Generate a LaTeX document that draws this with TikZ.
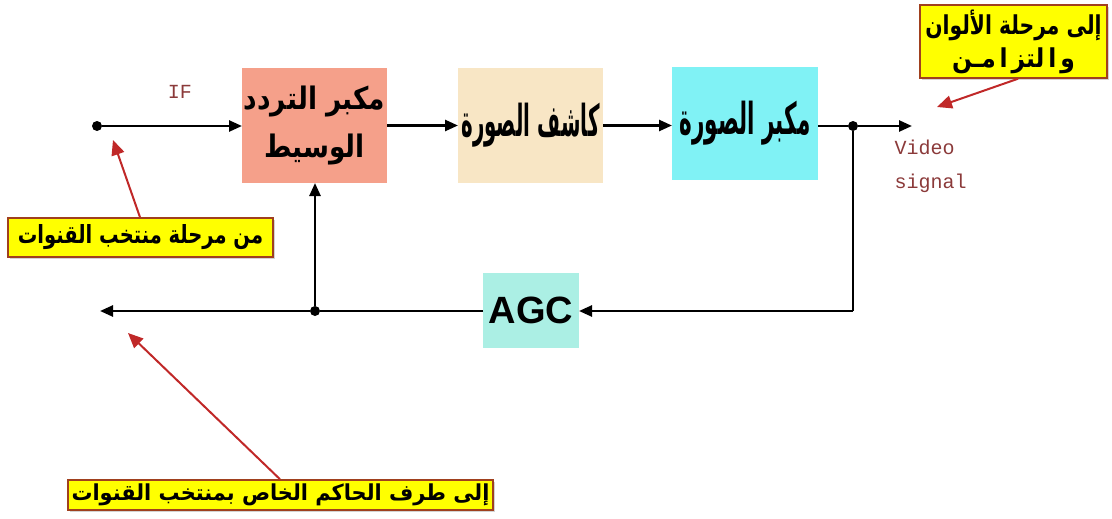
\documentclass[tikz,border=0pt]{standalone}
\usepackage{fontspec}
\setmainfont{Liberation Sans}
\newfontfamily\arabicfont[Script=Arabic]{DejaVu Sans}
\newfontfamily\codefont{Liberation Mono}
\TeXXeTstate=1
\usetikzlibrary{arrows.meta,shadows}

% narrow a line of text horizontally
\newcommand\narrow[2]{\scalebox{#1}[1]{#2}}

\definecolor{ifbox}{HTML}{F5A08A}
\definecolor{detbox}{HTML}{F8E6C5}
\definecolor{vidbox}{HTML}{80F2F5}
\definecolor{agcbox}{HTML}{ABEFE4}
\definecolor{tagfill}{HTML}{FFFF00}
\definecolor{tagline}{HTML}{A0401E}
\definecolor{signame}{HTML}{8B3A3A}
\definecolor{pointer}{HTML}{C02828}

\tikzset{
  block/.style={inner sep=0pt, outer sep=0pt, align=center},
  tag/.style={fill=tagfill, draw=tagline, line width=1.5pt, inner sep=0pt,
    align=center,
    drop shadow={shadow xshift=2pt, shadow yshift=-2pt, opacity=0.35}},
  wire/.style={line width=2.5pt, -{Triangle[length=13pt,width=11pt]}},
  plain/.style={line width=2.5pt},
  dot/.style={circle, fill=black, inner sep=0pt, minimum size=10pt},
  sig/.style={font=\codefont\fontsize{20}{34}\selectfont, text=signame, align=left},
  ptr/.style={line width=2pt, draw=pointer, -{Triangle[length=15pt,width=13pt]}}
}

\begin{document}
\begin{tikzpicture}[x=1pt,y=-1pt]
  \useasboundingbox (0,0) rectangle (1112,519);

  % processing blocks
  \node[block, fill=ifbox, minimum width=145pt, minimum height=115pt,
        font=\arabicfont\bfseries\fontsize{31}{48}\selectfont] (ifamp) at (314.5,125.5)
    {\narrow{0.85}{\beginR مكبر التردد\endR}\\\narrow{0.85}{\beginR الوسيط\endR}};
  \node[block, fill=detbox, minimum width=145pt, minimum height=115pt,
        font=\arabicfont\bfseries\fontsize{44}{48}\selectfont] (det) at (530.5,125.5)
    {\narrow{0.45}{\beginR كاشف الصورة\endR}};
  \node[block, fill=vidbox, minimum width=146pt, minimum height=113pt,
        font=\arabicfont\bfseries\fontsize{44}{48}\selectfont] (vamp) at (745,123.5)
    {\narrow{0.49}{\beginR مكبر الصورة\endR}};
  \node[block, fill=agcbox, minimum width=96pt, minimum height=75pt,
        font=\bfseries\fontsize{38}{44}\selectfont] (agc) at (531,310.5) {AGC};

  % junctions and free ends
  \node[dot] (in) at (97,126) {};
  \node[dot] (j1) at (853,126) {};
  \node[dot] (j2) at (315,311) {};
  \coordinate (vout) at (912,126);
  \coordinate (lout) at (100,311);
  \coordinate (corner) at (853,311);

  % signal path
  \draw[wire] (in) -- (in -| ifamp.west);
  \draw[wire] (ifamp.east |- det.west) -- (det.west);
  \draw[wire] (det.east) -- (det.east -| vamp.west);
  \draw[plain] (vamp.east |- j1) -- (j1);
  \draw[wire] (j1) -- (vout);

  % AGC loop
  \draw[plain] (j1) -- (corner);
  \draw[wire] (corner) -- (corner -| agc.east);
  \draw[plain] (agc.west |- j2) -- (j2);
  \draw[wire] (j2) -- (lout);
  \draw[wire] (j2) -- (j2 |- ifamp.south);

  % signal names
  \node[sig] (iflabel) at (180,92) {IF};
  \node[sig, anchor=north west] (vidlabel) at (891,136) {Video\\signal};

  % annotation tags
  \node[tag, minimum width=187pt, minimum height=73pt,
        font=\arabicfont\bfseries\fontsize{26}{33}\selectfont] (tagsync) at (1013.5,41.5)
    {\narrow{0.78}{\beginR إلى مرحلة الألوان\endR}\\\narrow{0.9}{\beginR و\,ا\,لتز\,ا\,مـن\endR}};
  \node[tag, minimum width=265pt, minimum height=39pt,
        font=\arabicfont\bfseries\fontsize{25}{28}\selectfont] (tagtuner) at (140.5,237.5)
    {\narrow{0.78}{\beginR من مرحلة منتخب القنوات\endR}};
  \node[tag, minimum width=425pt, minimum height=30pt,
        font=\arabicfont\bfseries\fontsize{22}{26}\selectfont] (tagctrl) at (280.5,495)
    {\narrow{0.95}{\beginR إلى طرف الحاكم الخاص بمنتخب القنوات\endR}};

  \coordinate (psync) at (937,107);
  \coordinate (ptuner) at (113,140);
  \coordinate (pctrl) at (128,333);
  \draw[ptr] (tagsync.south -| 1018,0) -- (psync);
  \draw[ptr] (tagtuner.north -| 140,0) -- (ptuner);
  \draw[ptr] (tagctrl.north -| 280,0) -- (pctrl);
\end{tikzpicture}
\end{document}
